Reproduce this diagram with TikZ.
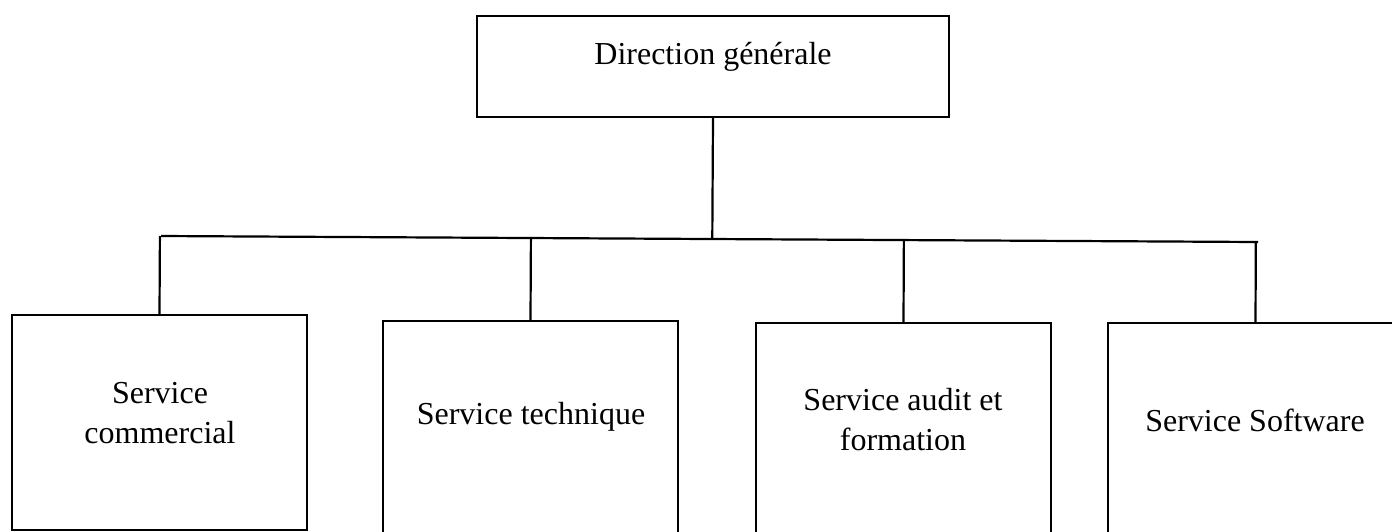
\documentclass[tikz,border=0pt]{standalone}
\usepackage{fontspec}
\setmainfont{Liberation Serif}
\usepackage{tikz}
\usetikzlibrary{calc}

\begin{document}
\begin{tikzpicture}[x=0.5pt,y=-0.5pt,line width=1.1pt,
                    box/.style={draw,rectangle,inner sep=0pt},
                    txt/.style={inner sep=0pt,align=center,font=\fontsize{16}{20}\selectfont}]
                      \useasboundingbox (0,0) rectangle (1392,531);
                      \clip (0,0) rectangle (1392,531);
                      \node[box,minimum width=236pt,minimum height=50.5pt](dg)at(713,66.5){};
                      \node[txt](dgtxt)at(713,57){Direction générale};
                      \node[box,minimum width=147.5pt,minimum height=107.5pt](com)at(159.5,422.5){};
                      \node[txt](comtxt)at(160,413){Service\\commercial};
                      \node[box,minimum width=147.5pt,minimum height=112pt](tech)at(530.5,433){};
                      \node[txt](techtxt)at(531,417){Service technique};
                      \node[box,minimum width=147.5pt,minimum height=111pt](audit)at(903.5,434){};
                      \node[txt](audittxt)at(903,420){Service audit et\\formation};
                      \node[box,minimum width=147.5pt,minimum height=111pt](soft)at(1255.5,434){};
                      \node[txt](softtxt)at(1255,420){Service Software};
                      \coordinate (barL) at (161,236);
                      \coordinate (barR) at (1258,242);
                      \draw (barL) -- (barR);
                      \draw (dg.south) -- ($(barL)!(dg.south)!(barR)$);
                      \foreach \s in {com,tech,audit,soft}
                        \draw (\s.north) -- ($(barL)!(\s.north)!(barR)$);
                  \end{tikzpicture}
\end{document}
